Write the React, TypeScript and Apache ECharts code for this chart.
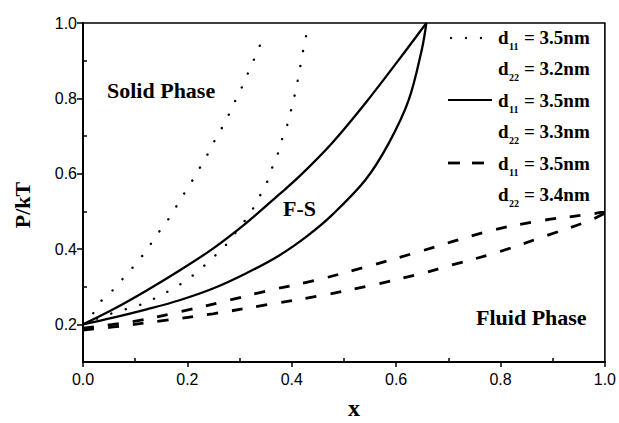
import React, { useEffect, useRef } from "react";
import * as echarts from "echarts";

// ---- data ----
const dottedAX = [0, 0.017, 0.029, 0.058, 0.083, 0.107, 0.128, 0.148, 0.169, 0.186, 0.204, 0.221, 0.237, 0.252, 0.268, 0.282, 0.295, 0.309, 0.321, 0.334, 0.345];
const dottedAY = [0.2, 0.224, 0.253, 0.292, 0.332, 0.37, 0.41, 0.45, 0.49, 0.53, 0.569, 0.609, 0.647, 0.687, 0.726, 0.764, 0.803, 0.843, 0.883, 0.923, 0.963];

const dottedBX = [0, 0.04, 0.074, 0.106, 0.136, 0.165, 0.193, 0.221, 0.249, 0.276, 0.298, 0.32, 0.336, 0.351, 0.362, 0.373, 0.382, 0.392, 0.399, 0.406, 0.412, 0.417, 0.422, 0.428];
const dottedBY = [0.2, 0.222, 0.237, 0.25, 0.268, 0.289, 0.312, 0.342, 0.377, 0.414, 0.454, 0.494, 0.534, 0.572, 0.614, 0.652, 0.694, 0.732, 0.771, 0.811, 0.851, 0.89, 0.928, 0.97];

const solidAX = [0, 0.058, 0.122, 0.185, 0.249, 0.312, 0.376, 0.414, 0.477, 0.541, 0.605, 0.658];
const solidAY = [0.2, 0.24, 0.29, 0.343, 0.401, 0.468, 0.545, 0.592, 0.681, 0.787, 0.902, 1.0];

const solidBX = [0, 0.058, 0.122, 0.185, 0.249, 0.312, 0.376, 0.43, 0.477, 0.541, 0.586, 0.624, 0.649, 0.658];
const solidBY = [0.2, 0.218, 0.24, 0.264, 0.295, 0.335, 0.383, 0.435, 0.49, 0.583, 0.681, 0.795, 0.928, 1.0];

const dashedAX = [0, 0.09, 0.185, 0.28, 0.35, 0.446, 0.541, 0.637, 0.777, 0.872, 0.98, 1.0];
const dashedAY = [0.19, 0.206, 0.233, 0.264, 0.288, 0.317, 0.352, 0.39, 0.447, 0.474, 0.494, 0.5];

const dashedBX = [0, 0.058, 0.153, 0.249, 0.357, 0.459, 0.554, 0.649, 0.7, 0.796, 0.891, 0.968, 1.0];
const dashedBY = [0.185, 0.193, 0.21, 0.228, 0.253, 0.277, 0.304, 0.335, 0.355, 0.392, 0.437, 0.474, 0.495];

const xMajorTicks = [0, 0.2, 0.4, 0.6, 0.8, 1.0];
const xMinorTicks = [0.1, 0.3, 0.5, 0.7, 0.9];
const yMajorTicks = [0.2, 0.4, 0.6, 0.8, 1.0];
const yMinorTicks = [0.3, 0.5, 0.7, 0.9];

const legendRows = [
  { sub: "11", val: "= 3.5nm" },
  { sub: "22", val: "= 3.2nm" },
  { sub: "11", val: "= 3.5nm" },
  { sub: "22", val: "= 3.3nm" },
  { sub: "11", val: "= 3.5nm" },
  { sub: "22", val: "= 3.4nm" },
];

const zip = (xs: number[], ys: number[]) => xs.map((x, i) => [x, ys[i]]);

const SERIF = "'Liberation Serif', 'Times New Roman', serif";
const SANS = "'Liberation Sans', Arial, sans-serif";

export default function App() {
  const ref = useRef<HTMLDivElement>(null);
  useEffect(() => {
    document.body.style.margin = "0";
    const chart = echarts.init(ref.current!, undefined, { renderer: "svg" });

    const mkLine = (name: string, xs: number[], ys: number[], ls: any) => ({
      name,
      type: "line",
      data: zip(xs, ys),
      xAxisIndex: 0,
      yAxisIndex: 0,
      showSymbol: false,
      smooth: 0.35,
      lineStyle: { color: "#000", ...ls },
      silent: true,
    });

    const dotted = { width: 2.4, type: [0.1, 15], cap: "round" };
    const solid = { width: 2.3, type: "solid" };
    const dashed = { width: 2.8, type: [11, 14] };

    const rowY = [37, 68.5, 100, 131.5, 163, 194];
    const legendTexts: any[] = [];
    legendRows.forEach((r, i) => {
      legendTexts.push({
        type: "text",
        x: 498,
        y: rowY[i],
        style: { text: "d", font: `bold 19px ${SERIF}`, fill: "#000", align: "left", verticalAlign: "middle" },
      });
      legendTexts.push({
        type: "text",
        x: 509,
        y: rowY[i] + 9,
        style: { text: r.sub, font: `bold 10px ${SERIF}`, fill: "#000", align: "left", verticalAlign: "middle" },
      });
      legendTexts.push({
        type: "text",
        x: 524,
        y: rowY[i],
        style: { text: r.val, font: `bold 19px ${SERIF}`, fill: "#000", align: "left", verticalAlign: "middle" },
      });
    });

    const option: any = {
      animation: false,
      backgroundColor: "#fff",
      grid: {
        left: 83,
        right: 12,
        top: 23,
        bottom: 61,
        show: true,
        borderColor: "#000",
        borderWidth: 1.6,
        backgroundColor: "transparent",
      },
      xAxis: [
        {
          type: "value",
          min: 0,
          max: 1,
          interval: 0.2,
          position: "bottom",
          axisLine: { show: true, lineStyle: { color: "#000", width: 2 } },
          axisTick: { show: true, inside: false, length: 5, lineStyle: { color: "#000", width: 1.5 }, customValues: xMajorTicks },
          axisLabel: {
            color: "#000",
            fontFamily: SANS,
            fontSize: 16,
            margin: 9,
            customValues: xMajorTicks,
            formatter: (v: number) => v.toFixed(1),
          },
          splitLine: { show: false },
        },
        {
          type: "value",
          min: 0,
          max: 1,
          interval: 0.1,
          position: "bottom",
          axisLine: { show: false },
          axisTick: { show: true, inside: true, length: 4, lineStyle: { color: "#000", width: 1.5 }, customValues: xMinorTicks },
          axisLabel: { show: false },
          splitLine: { show: false },
        },
      ],
      yAxis: [
        {
          type: "value",
          min: 0.1,
          max: 1.0,
          interval: 0.1,
          position: "left",
          axisLine: { show: true, lineStyle: { color: "#000", width: 2 } },
          axisTick: { show: true, inside: false, length: 6, lineStyle: { color: "#000", width: 1.5 }, customValues: yMajorTicks },
          axisLabel: {
            color: "#000",
            fontFamily: SANS,
            fontSize: 16,
            margin: 6,
            customValues: yMajorTicks,
            formatter: (v: number) => v.toFixed(1),
          },
          splitLine: { show: false },
        },
        {
          type: "value",
          min: 0.1,
          max: 1.0,
          interval: 0.1,
          position: "left",
          axisLine: { show: false },
          axisTick: { show: true, inside: true, length: 4, lineStyle: { color: "#000", width: 1.5 }, customValues: yMinorTicks },
          axisLabel: { show: false },
          splitLine: { show: false },
        },
      ],
      series: [
        mkLine("dottedA", dottedAX, dottedAY, dotted),
        mkLine("dottedB", dottedBX, dottedBY, dotted),
        mkLine("solidA", solidAX, solidAY, solid),
        mkLine("solidB", solidBX, solidBY, solid),
        mkLine("dashedA", dashedAX, dashedAY, dashed),
        mkLine("dashedB", dashedBX, dashedBY, dashed),
      ],
      graphic: [
        {
          type: "text",
          x: 22,
          y: 205,
          rotation: Math.PI / 2,
          style: { text: "P/kT", font: `bold 22px ${SERIF}`, fill: "#000", align: "center", verticalAlign: "middle" },
        },
        {
          type: "text",
          x: 354,
          y: 408,
          style: { text: "x", font: `bold 24px ${SERIF}`, fill: "#000", align: "center", verticalAlign: "middle" },
        },
        {
          type: "text",
          x: 107,
          y: 90,
          style: { text: "Solid Phase", font: `bold 22px ${SERIF}`, fill: "#000", align: "left", verticalAlign: "middle" },
        },
        {
          type: "text",
          x: 283,
          y: 208,
          style: { text: "F-S", font: `bold 22px ${SERIF}`, fill: "#000", align: "left", verticalAlign: "middle" },
        },
        {
          type: "text",
          x: 476,
          y: 317,
          style: { text: "Fluid Phase", font: `bold 22px ${SERIF}`, fill: "#000", align: "left", verticalAlign: "middle" },
        },
        // legend samples
        { type: "circle", shape: { cx: 451, cy: 38, r: 1.2 }, style: { fill: "#000" } },
        { type: "circle", shape: { cx: 466, cy: 38, r: 1.2 }, style: { fill: "#000" } },
        { type: "circle", shape: { cx: 481, cy: 38, r: 1.2 }, style: { fill: "#000" } },
        { type: "line", shape: { x1: 448, y1: 100, x2: 492, y2: 100 }, style: { stroke: "#000", lineWidth: 2.2 } },
        { type: "line", shape: { x1: 448, y1: 163, x2: 460, y2: 163 }, style: { stroke: "#000", lineWidth: 2.8 } },
        { type: "line", shape: { x1: 472, y1: 163, x2: 484, y2: 163 }, style: { stroke: "#000", lineWidth: 2.8 } },
        ...legendTexts,
      ],
    };
    chart.setOption(option);
    return () => chart.dispose();
  }, []);
  return <div ref={ref} style={{ width: 619, height: 423 }} />;
}
